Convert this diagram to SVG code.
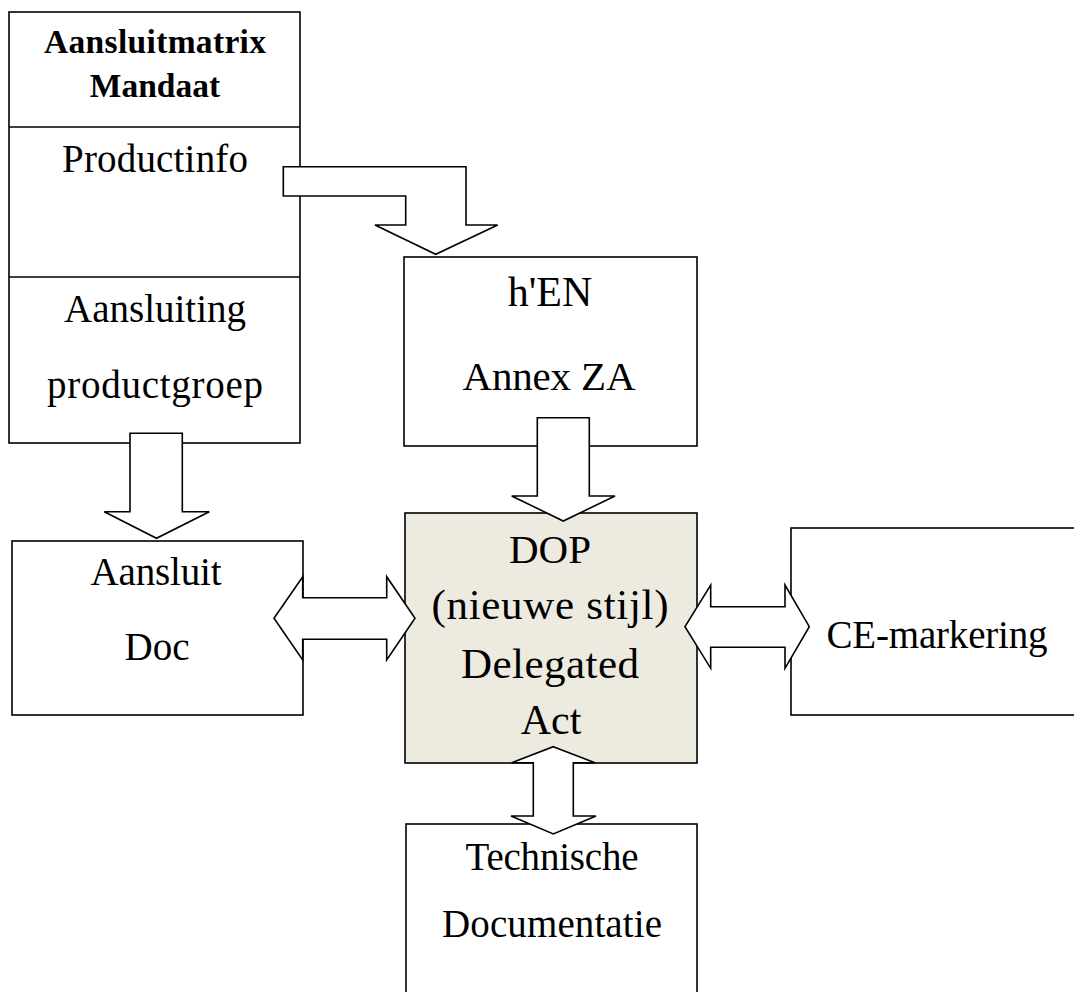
<svg xmlns="http://www.w3.org/2000/svg" width="1074" height="992" viewBox="0 0 1074 992">
<style>
.box{fill:#fff;stroke:#000;stroke-width:1.6}
.dop{fill:#EDEAE0;stroke:#000;stroke-width:1.6}
.arr{fill:#fff;stroke:#000;stroke-width:1.6;stroke-linejoin:miter}
.t{font-family:"Liberation Serif","Times New Roman",serif;font-size:39px;fill:#000;text-anchor:middle}
.b{font-family:"Liberation Serif","Times New Roman",serif;font-size:33.5px;font-weight:bold;fill:#000;text-anchor:middle}
</style>
<rect width="1074" height="992" fill="#fff"/>
<g id="matrix">
<rect class="box" x="9" y="12" width="291" height="431"/>
<line x1="9" y1="127" x2="300" y2="127" stroke="#000" stroke-width="1.6"/>
<line x1="9" y1="277" x2="300" y2="277" stroke="#000" stroke-width="1.6"/>
<text class="b" x="155" y="53" textLength="222">Aansluitmatrix</text>
<text class="b" x="155" y="97">Mandaat</text>
<text class="t" x="155" y="172" textLength="186">Productinfo</text>
<text class="t" x="155" y="322" textLength="182">Aansluiting</text>
<text class="t" x="155" y="398" textLength="216">productgroep</text>
</g>
<g id="hen">
<rect class="box" x="404" y="257" width="293" height="189"/>
<text class="t" x="550" y="306" style="font-size:42px">h'EN</text>
<text class="t" x="549" y="390" style="font-size:41px" textLength="173">Annex ZA</text>
</g>
<g id="aansluitdoc">
<rect class="box" x="12" y="541" width="291" height="174"/>
<text class="t" x="156" y="585" textLength="131">Aansluit</text>
<text class="t" x="157" y="660">Doc</text>
</g>
<g id="dop">
<rect class="dop" x="405" y="513" width="292" height="250"/>
<text class="t" x="550" y="563" style="font-size:41px">DOP</text>
<text class="t" x="550" y="619" style="font-size:43px" textLength="237">(nieuwe stijl)</text>
<text class="t" x="550" y="678" style="font-size:43px" textLength="178">Delegated</text>
<text class="t" x="551" y="734" style="font-size:42px">Act</text>
</g>
<g id="ce">
<rect class="box" x="791" y="528" width="300" height="187"/>
<text class="t" x="937" y="648" textLength="221">CE-markering</text>
</g>
<g id="techdoc">
<rect class="box" x="406" y="824" width="291" height="190"/>
<text class="t" x="552" y="870" textLength="173">Technische</text>
<text class="t" x="552" y="937" textLength="220">Documentatie</text>
</g>
<g id="connectors">
<path class="arr" d="M283.3,166.7 L466,166.7 L466,225 L497.7,225 L435.7,254.3 L375,225 L405.7,225 L405.7,196 L283.3,196 Z"/>
<path class="arr" d="M130,433.3 L182.3,433.3 L182.3,511.7 L209.3,511.7 L156.5,538.3 L104.3,511.7 L130,511.7 Z"/>
<path class="arr" d="M537.3,417.7 L589.3,417.7 L589.3,496 L615,496 L563.3,521 L511.7,496 L537.3,496 Z"/>
<path class="arr" d="M274,618.3 L302.7,576.7 L302.7,597.7 L386.7,597.7 L386.7,576.7 L415,618.3 L386.7,660 L386.7,639.3 L302.7,639.3 L302.7,660 Z"/>
<path class="arr" d="M685,626.7 L710.7,585 L710.7,606.7 L785,606.7 L785,585 L809.3,626.7 L785,668.3 L785,647.3 L710.7,647.3 L710.7,668.3 Z"/>
<path class="arr" d="M553.3,746.7 L595,762.7 L573.3,762.7 L573.3,816 L596,816 L553.3,834 L511,816 L533.3,816 L533.3,762.7 L511.7,762.7 Z"/>
</g>
</svg>
